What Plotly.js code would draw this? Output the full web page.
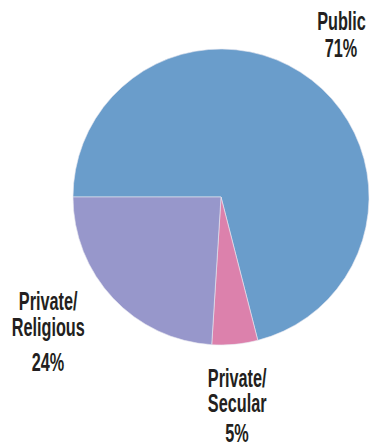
<!DOCTYPE html>
<html>
<head>
<meta charset="utf-8">
<script src="https://cdn.plot.ly/plotly-3.0.1.min.js"></script>
<style>html,body{margin:0;padding:0;background:#fff;}#chart{width:370px;height:446px;}</style>
</head>
<body>
<div id="chart"></div>
<script>
var categories = ["Public", "Private/Secular", "Private/Religious"];
var labelLines = [["Public"], ["Private/", "Secular"], ["Private/", "Religious"]];
var values = [71, 5, 24];
var colors = ["#6A9DCB", "#DC81AC", "#9797CB"];

var font = {family: "Liberation Sans, Arial, sans-serif", size: 25, color: "#231F20", weight: 700};
var SQUEEZE = 0.65;

var trace = {
  type: "pie",
  labels: categories,
  values: values,
  sort: false,
  direction: "clockwise",
  rotation: 270,
  textinfo: "none",
  hoverinfo: "label+percent",
  marker: {colors: colors, line: {color: "#E8E8F0", width: 0.6}},
  domain: {x: [73/370, 369/370], y: [101/446, 397/446]},
  showlegend: false
};

// label placement (pixel centers) for each slice: name lines, then percent
var nameX = [341, 237, 48];
var nameY = [[21], [378, 403], [301, 327]];
var pctY = [48, 433, 362];

var annotations = [];
function addText(txt, px, py) {
  annotations.push({
    xref: "paper", yref: "paper",
    x: px / 370, y: 1 - py / 446,
    xanchor: "center", yanchor: "middle",
    text: txt, showarrow: false, font: font
  });
}
for (var i = 0; i < categories.length; i++) {
  for (var j = 0; j < labelLines[i].length; j++) {
    addText(labelLines[i][j], nameX[i], nameY[i][j]);
  }
  addText(values[i] + "%", nameX[i], pctY[i]);
}

var layout = {
  width: 370, height: 446,
  margin: {l: 0, r: 0, t: 0, b: 0, pad: 0},
  paper_bgcolor: "#fff",
  annotations: annotations
};

Plotly.newPlot("chart", [trace], layout, {displayModeBar: false, staticPlot: true}).then(function (gd) {
  // emulate the condensed typeface of the original by squeezing text horizontally
  var texts = gd.querySelectorAll(".annotation-text");
  texts.forEach(function (t) {
    var b = t.getBBox();
    var cx = b.x + b.width / 2;
    var prev = t.getAttribute("transform") || "";
    t.setAttribute("transform", prev + " translate(" + cx + ",0) scale(" + SQUEEZE + ",1) translate(" + (-cx) + ",0)");
  });
});
</script>
</body>
</html>
